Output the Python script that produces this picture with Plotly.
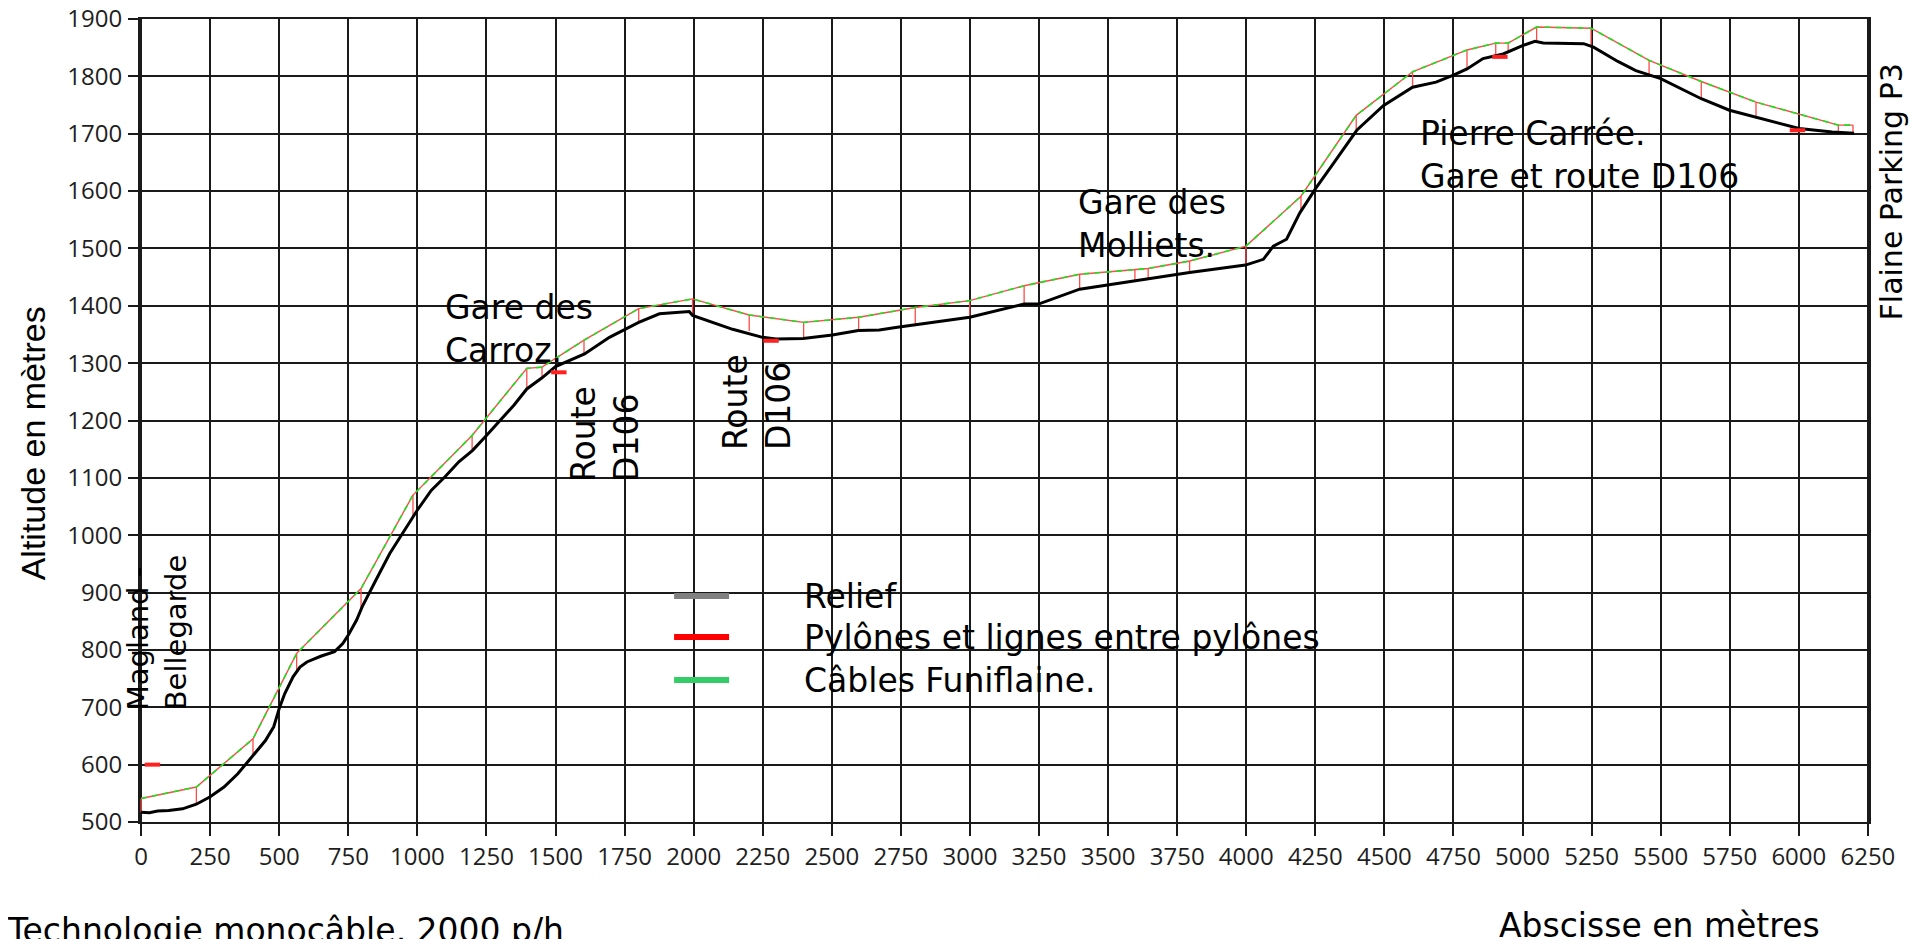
import plotly.graph_objects as go

# ---------------- data ----------------
relief_x = [0, 30, 60, 100, 150, 200, 250, 300, 350, 400, 450, 480, 500, 520, 550, 575,
            600, 650, 700, 730, 750, 780, 800, 850, 900, 950, 1000, 1050, 1100, 1150,
            1200, 1250, 1300, 1350, 1396, 1450, 1500, 1605, 1695, 1801, 1876, 1984,
            1996, 2141, 2249, 2298, 2396, 2502, 2596, 2672, 2731, 2802, 2999, 3196,
            3248, 3397, 3597, 3795, 3997, 4062, 4098, 4146, 4194, 4252, 4315, 4400,
            4496, 4602, 4687, 4750, 4799, 4857, 4930, 5002, 5045, 5075, 5221, 5257,
            5345, 5410, 5500, 5581, 5647, 5749, 5845, 5953, 6001, 6121, 6200]
relief_y = [517, 516, 519, 520, 523, 531, 544, 561, 584, 614, 642, 666, 698, 724, 753, 770,
            779, 789, 797, 811, 826, 852, 875, 922, 968, 1006, 1044, 1078, 1102, 1128,
            1148, 1174, 1200, 1227, 1255, 1274, 1294, 1316, 1345, 1371, 1386, 1390,
            1383, 1359, 1345, 1342, 1343, 1349, 1357, 1358, 1362, 1367, 1380, 1403,
            1403, 1429, 1444, 1458, 1471, 1481, 1504, 1516, 1562, 1605, 1648, 1706,
            1749, 1781, 1790, 1802, 1813, 1831, 1839, 1854, 1861, 1858, 1857, 1851,
            1826, 1810, 1796, 1776, 1761, 1741, 1729, 1715, 1709, 1703, 1701]

pylon_x = [0, 200, 405, 563, 796, 984, 1198, 1396, 1451, 1603, 1801, 1996, 2201, 2398,
           2597, 2802, 2999, 3196, 3397, 3597, 3645, 3795, 3999, 4198, 4398, 4602, 4799,
           4903, 4948, 5051, 5248, 5458, 5647, 5845, 6143, 6196]
pylon_top = [541, 561, 645, 794, 907, 1070, 1174, 1291, 1293, 1340, 1395, 1412, 1384, 1371,
             1380, 1397, 1409, 1435, 1455, 1464, 1465, 1478, 1504, 1591, 1732, 1808, 1846,
             1858, 1858, 1886, 1884, 1828, 1791, 1755, 1715, 1715]
pylon_ground = [517, 531, 617, 765, 872, 1032, 1147, 1255, 1275, 1316, 1371, 1385, 1356, 1343,
                1357, 1367, 1380, 1403, 1429, 1444, 1446, 1458, 1472, 1565, 1708, 1781, 1813,
                1835, 1843, 1861, 1855, 1803, 1761, 1729, 1702, 1701]

# small red marks on the profile
mark_x = [41, 1512, 2280, 4918, 5995]
mark_y = [600, 1284, 1339, 1834, 1706]

x_ticks = list(range(0, 6251, 250))
y_ticks = list(range(500, 1901, 100))

legend_names = ["Relief", "Pylônes et lignes entre pylônes", "Câbles Funiflaine."]
legend_colors = ["#808080", "#ff0000", "#33cc66"]

# ---------------- figure ----------------
ANN_FONT = "DejaVu Sans"
fig = go.Figure()

# vertical pylon lines
vx, vy = [], []
for px_, g, t in zip(pylon_x, pylon_ground, pylon_top):
    vx += [px_, px_, None]
    vy += [g, t, None]
fig.add_trace(go.Scatter(x=vx, y=vy, mode="lines", line=dict(color="#ff4a4a", width=1.3),
                         showlegend=False, hoverinfo="skip", name="Pylônes"))
# lines between pylons
fig.add_trace(go.Scatter(x=pylon_x, y=pylon_top, mode="lines",
                         line=dict(color="#ff4a4a", width=1.4), showlegend=False,
                         name=legend_names[1]))
# cable
fig.add_trace(go.Scatter(x=pylon_x, y=pylon_top, mode="lines",
                         line=dict(color="#1ee01e", width=1.6, dash="6px,5px"),
                         showlegend=False, name=legend_names[2]))
# relief
fig.add_trace(go.Scatter(x=relief_x, y=relief_y, mode="lines",
                         line=dict(color="#000000", width=3), showlegend=False,
                         name=legend_names[0]))
# red marks
fig.add_trace(go.Scatter(x=mark_x, y=mark_y, mode="markers",
                         marker=dict(symbol="line-ew", size=11, color="#ff2020",
                                     line=dict(color="#ff2020", width=4)),
                         showlegend=False, hoverinfo="skip"))

axis_common = dict(
    showgrid=True, gridcolor="#1a1a1a", gridwidth=2,
    showline=True, linecolor="#1a1a1a", linewidth=2, mirror=True,
    ticks="outside", tickwidth=2, tickcolor="#1a1a1a",
    tickfont=dict(family="Open Sans", size=24, color="#1e1e1e"),
    zeroline=False, ticklabeloverflow="allow", automargin=False,
)
fig.update_xaxes(range=[-4, 6254], tickvals=x_ticks, ticklen=12, ticklabelstandoff=0,
                 **axis_common)
fig.update_yaxes(range=[500, 1900], tickvals=y_ticks, ticklen=10, ticklabelstandoff=1,
                 **axis_common)

def ann(text, x, y, size=33, angle=0, xanchor="left", yanchor="middle", align="left",
        family=ANN_FONT):
    fig.add_annotation(text=text, x=x, y=y, xref="paper", yref="paper",
                       showarrow=False, textangle=angle, xanchor=xanchor,
                       yanchor=yanchor, align=align,
                       font=dict(family=family, size=size, color="#000000"))

ann("Gare des<br>Carroz.", 0.1750, 0.6139)
ann("Gare des<br>Molliets.", 0.5413, 0.7447)
ann("Pierre Carrée.<br>Gare et route D106", 0.7390, 0.8310)
ann("Route<br>D106", 0.2689, 0.4832, angle=-90, xanchor="center")
ann("Route<br>D106", 0.3569, 0.5230, angle=-90, xanchor="center")
ann("Magland -<br>Bellegarde", 0.0100, 0.2366, size=29, angle=-90, xanchor="center")
ann("Flaine Parking P3", 1.0130, 0.7846, size=30, angle=-90, xanchor="center")
ann("Altitude en mètres", -0.0620, 0.4713, size=34, angle=-90, xanchor="center",
    align="center", family="Liberation Sans")
ann("Abscisse en mètres", 0.8791, -0.1289, xanchor="center", align="center")
ann("Technologie monocâble, 2000 p/h", -0.0781, -0.1345)

# legend (swatches + labels)
leg_rows = [0.2814, 0.2304, 0.1768]
for nm, col, yy in zip(legend_names, legend_colors, leg_rows):
    fig.add_shape(type="line", xref="paper", yref="paper", x0=0.3089, x1=0.3407,
                  y0=yy, y1=yy, line=dict(color=col, width=6))
    ann(nm, 0.3826, yy - 0.001)

fig.update_layout(
    width=1913, height=931,
    margin=dict(l=132, r=52, t=11, b=117, autoexpand=False),
    paper_bgcolor="white", plot_bgcolor="white",
    showlegend=False,
)

fig.write_html("out.html")
